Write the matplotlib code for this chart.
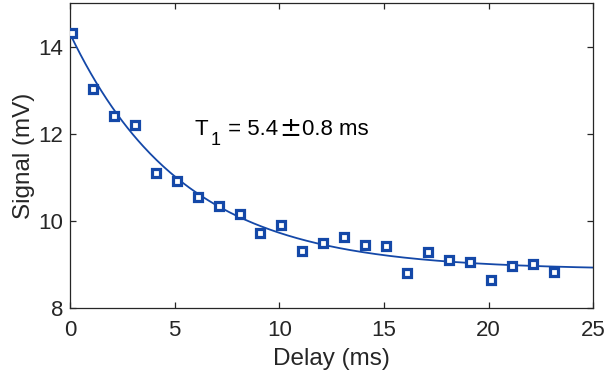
import numpy as np
import matplotlib
matplotlib.use("Agg")
import matplotlib.pyplot as plt

plt.rcParams['font.family'] = ['Liberation Sans', 'DejaVu Sans']

delay = [0.1, 1.1, 2.1, 3.1, 4.1, 5.1, 6.1, 7.1, 8.1, 9.1, 10.1, 11.1,
         12.1, 13.1, 14.1, 15.1, 16.1, 17.1, 18.1, 19.1, 20.1, 21.1, 22.1, 23.1]
signal = [14.31, 13.02, 12.41, 12.20, 11.10, 10.91, 10.55, 10.34, 10.15, 9.72,
          9.91, 9.30, 9.49, 9.63, 9.45, 9.43, 8.80, 9.29, 9.09, 9.04, 8.64,
          8.97, 9.00, 8.81]

# fit parameters: A*exp(-t/T1) + C
fit_A = 5.43
fit_T1 = 5.4
fit_C = 8.87

xticks = [0, 5, 10, 15, 20, 25]
yticks = [8, 10, 12, 14]

blue = '#1448a8'
dark = '#262626'

fig = plt.figure(figsize=(6.06, 3.86), dpi=100)
ax = fig.add_axes([0.1155, 0.2028, 0.979 - 0.1155, 0.9917 - 0.2028])

t = np.linspace(0, 25, 400)
ax.plot(t, fit_A * np.exp(-t / fit_T1) + fit_C, color=blue, lw=1.3, zorder=2)
ax.plot(delay, signal, linestyle='none', marker='s', markersize=5.6,
        markerfacecolor='white', markeredgecolor=blue, markeredgewidth=2.3, zorder=3)

ax.set_xlim(0, 25)
ax.set_ylim(8, 15)
ax.set_xticks(xticks)
ax.set_yticks(yticks)
ax.tick_params(direction='in', length=4, width=0.9, top=True, right=True,
               labelsize=16, colors=dark)
ax.tick_params(axis='x', pad=9)
ax.tick_params(axis='y', pad=5)
for s in ax.spines.values():
    s.set_color(dark)
    s.set_linewidth(0.9)

ax.set_xlabel('Delay (ms)', fontsize=17.5, color=dark, labelpad=5)
ax.set_ylabel('Signal (mV)', fontsize=17.5, color=dark, labelpad=2)

# annotation: T_1 = 5.4 ± 0.8 ms
fs = 16
t1 = ax.text(5.97, 11.97, 'T', fontsize=fs, color='black', va='baseline', ha='left')
t2 = ax.annotate('1', xy=(1, 0), xycoords=t1, xytext=(1.5, -6.5),
                 textcoords='offset points', fontsize=13, color='black',
                 va='bottom', ha='left')
t3 = ax.annotate(' = 5.4', xy=(1, 0), xycoords=(t2, t1), xytext=(1, 0),
                 textcoords='offset points', fontsize=fs, color='black',
                 va='bottom', ha='left')
t4 = ax.annotate('\u00b1', xy=(1, 0), xycoords=(t3, t1), xytext=(0.5, -1.5),
                 textcoords='offset points', fontsize=19, color='black',
                 family='DejaVu Sans', va='bottom', ha='left')
t5 = ax.annotate('0.8 ms', xy=(1, 0), xycoords=(t4, t1), xytext=(0.5, 0),
                 textcoords='offset points', fontsize=fs, color='black',
                 va='bottom', ha='left')

fig.savefig('out.png', dpi=100)
